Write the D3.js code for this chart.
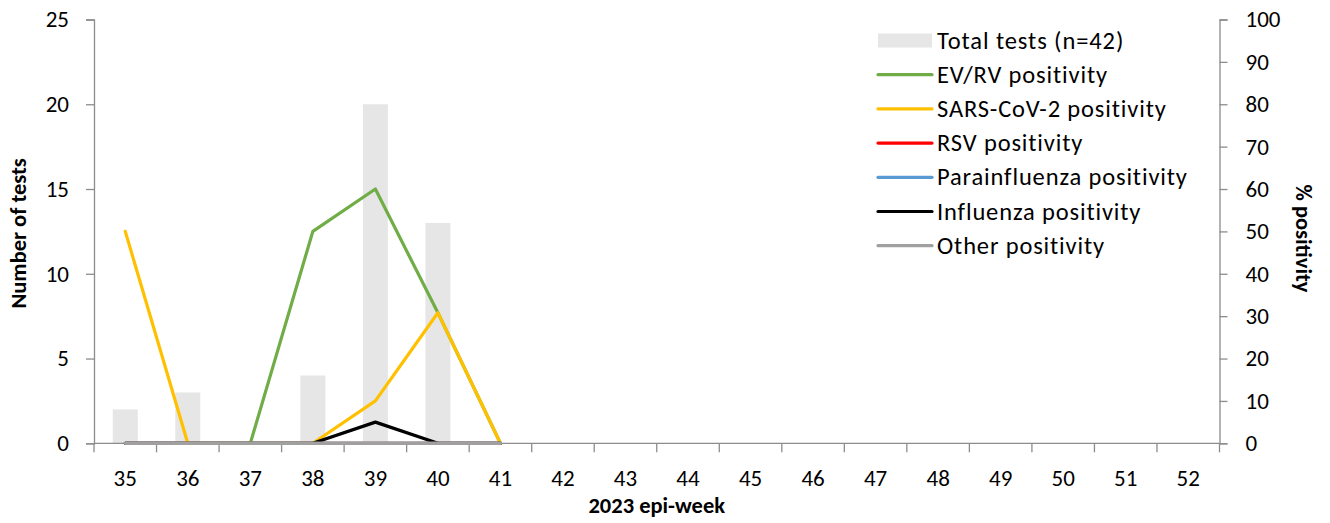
<!DOCTYPE html>
<html>
<head>
<meta charset="utf-8">
<script src="https://cdn.jsdelivr.net/npm/d3@7"></script>
<style>
  html, body { margin: 0; padding: 0; background: #fff; }
  svg { display: block; font-family: Carlito, Calibri, Lato, sans-serif; }
</style>
</head>
<body>
<svg id="chart" width="1330" height="523"></svg>
<script>
const weeks = ["35","36","37","38","39","40","41","42","43","44","45","46","47","48","49","50","51","52"];
const totalTests = [2, 3, 0, 4, 20, 13, 0];
const evrv = [0, 0, 0, 50, 60, 30.8, 0];
const sars = [50, 0, 0, 0, 10, 30.8, 0];
const rsv = [0, 0, 0, 0, 0, 0, 0];
const para = [0, 0, 0, 0, 0, 0, 0];
const flu = [0, 0, 0, 0, 5, 0, 0];
const other = [0, 0, 0, 0, 0, 0, 0];
const leftTicks = [0, 5, 10, 15, 20, 25];
const rightTicks = [0, 10, 20, 30, 40, 50, 60, 70, 80, 90, 100];

const lineSeries = [
  { name: "EV/RV positivity", values: evrv, color: "#70AD47" },
  { name: "SARS-CoV-2 positivity", values: sars, color: "#FFC000" },
  { name: "RSV positivity", values: rsv, color: "#FF0000" },
  { name: "Parainfluenza positivity", values: para, color: "#5B9BD5" },
  { name: "Influenza positivity", values: flu, color: "#000000" },
  { name: "Other positivity", values: other, color: "#A0A0A0" }
];

const svg = d3.select("#chart");
const L = 94, R = 1219.5, T = 19.5, B = 443.3;
const axisColor = "#8C8C8C";
const fs = 23;
const legFs = 24.5;
const titleFs = 22.5;

const x = d3.scaleBand().domain(weeks).range([L, R]).paddingInner(0.6).paddingOuter(0.3);
const step = x.step();
const yL = d3.scaleLinear().domain([0, 25]).range([B, T]);
const yR = d3.scaleLinear().domain([0, 100]).range([B, T]);

// bars
svg.append("g").selectAll("rect").data(totalTests).join("rect")
  .attr("x", (d, i) => x(weeks[i]))
  .attr("width", x.bandwidth())
  .attr("y", d => yL(d))
  .attr("height", d => B - yL(d))
  .attr("fill", "#E6E6E6");

// left axis
const gL = svg.append("g").attr("transform", `translate(${L},0)`)
  .call(d3.axisLeft(yL).tickValues(leftTicks).tickSize(8).tickPadding(17));
// right axis
const gR = svg.append("g").attr("transform", `translate(${R},0)`)
  .call(d3.axisRight(yR).tickValues(rightTicks).tickSize(8).tickPadding(18));
// bottom axis
const gB = svg.append("g").attr("transform", `translate(0,${B})`)
  .call(d3.axisBottom(x).tickSize(0).tickPadding(26));
// boundary ticks on bottom axis
const bounds = weeks.map(w => x(w) - step * x.paddingInner() / 2).concat([R]);
gB.selectAll("line.bt").data(bounds).join("line").attr("class", "bt")
  .attr("x1", d => d).attr("x2", d => d).attr("y1", 0).attr("y2", 9)
  .attr("stroke", axisColor).attr("stroke-width", 1.3);

[gL, gR, gB].forEach(g => {
  g.selectAll(".domain").attr("stroke", axisColor).attr("stroke-width", 1.3);
  g.selectAll(".tick line").attr("stroke", axisColor).attr("stroke-width", 1.3);
  g.selectAll(".tick text").attr("fill", "#000").attr("font-size", fs)
    .attr("font-family", "Carlito, Calibri, Lato, sans-serif");
});
gB.select(".domain").attr("d", `M${L},0H${R}`);

// lines
const line = d3.line()
  .x((d, i) => x(weeks[i]) + x.bandwidth() / 2)
  .y(d => yR(d));
svg.append("g").selectAll("path").data(lineSeries).join("path")
  .attr("d", s => line(s.values))
  .attr("fill", "none")
  .attr("stroke", s => s.color)
  .attr("stroke-width", s => s.name === "Other positivity" ? 3.6 : 3.2)
  .attr("stroke-linejoin", "round")
  .attr("stroke-linecap", "round");

// legend
const lg = svg.append("g");
const lx = 878, lw = 54, tx = 937, ly0 = 40.5, lstep = 34.2;
lg.append("rect").attr("x", lx).attr("y", ly0 - 7).attr("width", lw).attr("height", 14).attr("fill", "#E6E6E6");
lg.append("text").attr("x", tx).attr("y", ly0).attr("dominant-baseline", "central")
  .attr("font-size", legFs).attr("letter-spacing", 0.9).text("Total tests (n=42)");
lineSeries.forEach((s, i) => {
  const yy = ly0 + lstep * (i + 1);
  lg.append("line").attr("x1", lx).attr("x2", lx + lw).attr("y1", yy).attr("y2", yy)
    .attr("stroke", s.color).attr("stroke-width", 3.2).attr("stroke-linecap", "round");
  lg.append("text").attr("x", tx).attr("y", yy).attr("dominant-baseline", "central")
    .attr("font-size", legFs).attr("letter-spacing", 0.85).text(s.name);
});

// axis titles
svg.append("text").attr("transform", `translate(26,${(T + B) / 2 + 2}) rotate(-90)`)
  .attr("text-anchor", "middle").attr("font-weight", "bold").attr("font-size", titleFs)
  .text("Number of tests");
svg.append("text").attr("transform", `translate(1296,${(T + B) / 2 + 7}) rotate(90)`)
  .attr("text-anchor", "middle").attr("font-weight", "bold").attr("font-size", titleFs)
  .text("% positivity");
svg.append("text").attr("x", (L + R) / 2).attr("y", 513)
  .attr("text-anchor", "middle").attr("font-weight", "bold").attr("font-size", titleFs)
  .text("2023 epi-week");
</script>
</body>
</html>
